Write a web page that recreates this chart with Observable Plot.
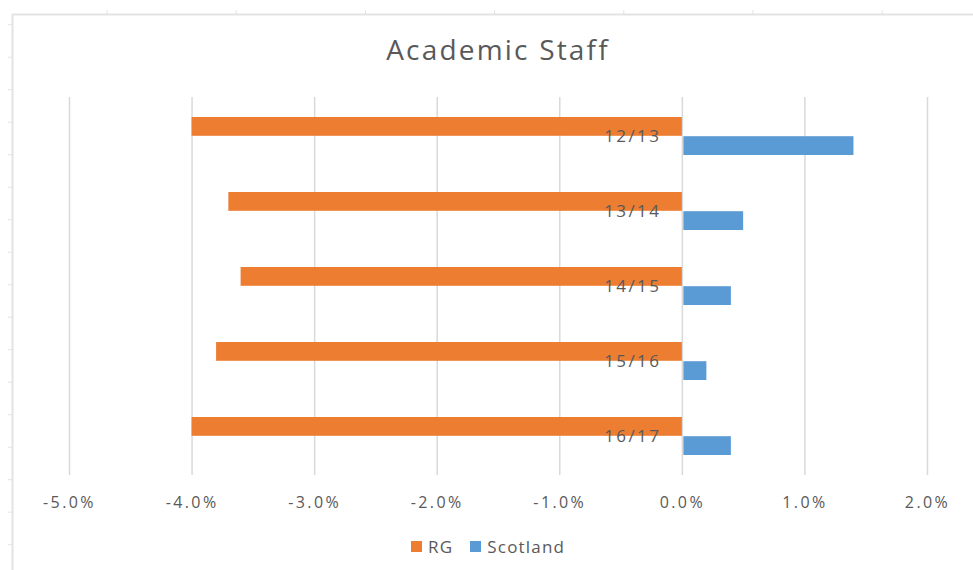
<!DOCTYPE html>
<html>
<head>
<meta charset="utf-8">
<script src="https://cdn.jsdelivr.net/npm/d3@7"></script>
<script src="https://cdn.jsdelivr.net/npm/@observablehq/plot@0.6"></script>
<style>
  html, body { margin: 0; padding: 0; background: #fff; }
  body { width: 973px; height: 570px; position: relative; overflow: hidden; font-family: "Open Sans", sans-serif; }
  #frame { position: absolute; left: 0; top: 0; }
  #chart { position: absolute; left: 0; top: 0; }
  #title { position: absolute; left: 0; width: 996px; top: 30px; text-align: center; font-size: 28px; letter-spacing: 2.2px; color: #595959; }
  #legend { position: absolute; top: 535px; left: 411px; font-size: 17px; letter-spacing: 1.2px; color: #595959; display: flex; align-items: center; white-space: nowrap; }
  #legend .sw { display: inline-block; width: 11px; height: 11px; margin-right: 6px; }
  #legend .item { display: flex; align-items: center; margin-right: 17px; }
</style>
</head>
<body>
<div id="frame"></div>
<div id="chart"></div>
<div id="title">Academic Staff</div>
<div id="legend"></div>
<script>
// ---- data ----
const years = ["12/13", "13/14", "14/15", "15/16", "16/17"];
const rgValues = [-4.0, -3.7, -3.6, -3.8, -4.0];
const scotlandValues = [1.4, 0.5, 0.4, 0.2, 0.4];
const xTicks = [-5, -4, -3, -2, -1, 0, 1, 2];
const seriesNames = ["RG", "Scotland"];
const seriesColors = ["#ED7D31", "#5B9BD5"];

const rgRows = years.map((y, i) => ({year: y, value: rgValues[i]}));
const scRows = years.map((y, i) => ({year: y, value: scotlandValues[i]}));

// ---- decorative frame (cropped spreadsheet border) ----
(function () {
  const svg = d3.select("#frame").append("svg").attr("width", 973).attr("height", 570);
  svg.append("line").attr("x1", 12).attr("x2", 973).attr("y1", 14.5).attr("y2", 14.5)
    .attr("stroke", "#e3e3e3").attr("stroke-width", 2);
  svg.append("line").attr("x1", 12.5).attr("x2", 12.5).attr("y1", 14).attr("y2", 570)
    .attr("stroke", "#e3e3e3").attr("stroke-width", 2);
  for (let x = 107; x < 973; x += 129.2)
    svg.append("line").attr("x1", x).attr("x2", x).attr("y1", 10).attr("y2", 14)
      .attr("stroke", "#e3e3e3").attr("stroke-width", 1);
  for (let y = 24.7; y < 570; y += 32.5)
    svg.append("line").attr("x1", 8).attr("x2", 12).attr("y1", y).attr("y2", y)
      .attr("stroke", "#e3e3e3").attr("stroke-width", 1);
})();

// ---- chart ----
const fmt = d => d.toFixed(1) + "%";
const chart = Plot.plot({
  width: 973,
  height: 520,
  marginTop: 97,
  marginBottom: 45,
  marginLeft: 69,
  marginRight: 46,
  style: { fontFamily: "Open Sans, sans-serif", fontSize: "16px", letterSpacing: "2.4px", color: "#595959", background: "transparent" },
  x: {
    domain: [-5, 2],
    ticks: xTicks,
    tickFormat: fmt,
    tickSize: 0,
    tickPadding: 21,
    label: null
  },
  y: {
    domain: years,
    paddingInner: 0.49,
    paddingOuter: 0.25,
    axis: null
  },
  marks: [
    Plot.ruleX(xTicks, { x: d => d, stroke: "#d9d9d9", strokeWidth: 1.5 }),
    Plot.barX(rgRows, { x: "value", y: "year", fill: seriesColors[0], insetBottom: 19.2 }),
    Plot.barX(scRows, { x: "value", y: "year", fill: seriesColors[1], insetTop: 19.2, insetLeft: 1.5 }),
    Plot.text(years, { x: () => 0, y: d => d, text: d => d, textAnchor: "end", dx: -21, fontSize: 17, fill: "#595959" })
  ]
});
document.getElementById("chart").appendChild(chart);

// ---- legend ----
const legend = d3.select("#legend");
seriesNames.forEach((name, i) => {
  const item = legend.append("div").attr("class", "item");
  item.append("span").attr("class", "sw").style("background", seriesColors[i]);
  item.append("span").text(name);
});
</script>
</body>
</html>
